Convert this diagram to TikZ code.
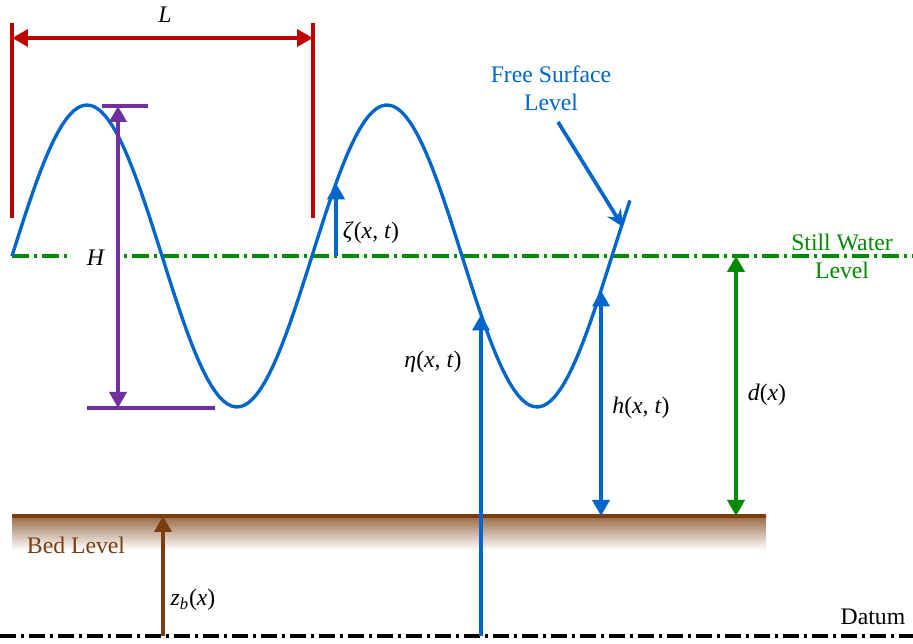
\documentclass[tikz,border=0pt]{standalone}
\usepackage{fontspec}
\setmainfont{Liberation Serif}
\usetikzlibrary{arrows.meta, positioning}
\definecolor{waveblue}{RGB}{0,102,204}
\definecolor{dimred}{RGB}{192,0,0}
\definecolor{dimpurple}{RGB}{112,48,160}
\definecolor{swlgreen}{RGB}{0,138,0}
\definecolor{bedbrown}{RGB}{122,62,16}

% surface elevation of the wave (picture units)
\newcommand{\wavey}[1]{256-151*sin(1.2*(#1-12))}

\begin{document}
\begin{tikzpicture}[
  x=0.02cm, y=-0.02cm,
  every node/.style={font=\fontsize{13.5}{16}\selectfont, inner sep=1pt},
  tri/.tip={Triangle[width=0.34cm,length=0.32cm]},
  wave/.style={waveblue, line width=1.9pt},
  arr/.style={line width=2.1pt},
  dimline/.style={dimred, line width=2pt},
  hline/.style={dimpurple, line width=2.1pt},
  swl/.style={swlgreen, line width=2.1pt, dash pattern=on 0.34cm off 0.1cm on 0.06cm off 0.1cm},
  datumline/.style={black, line width=1.8pt, dash pattern=on 0.32cm off 0.1cm on 0.06cm off 0.1cm},
  label/.style={align=center}
]
\useasboundingbox (0,0) rectangle (913,644);

% levels
\draw[swl] (12,256) -- (913,256);
\draw[datumline] (0,636) -- (913,636);
\shade[top color=bedbrown!75, bottom color=white] (12,517) rectangle (766,550);
\draw[bedbrown, line width=2.5pt] (12,516) -- (766,516);

% wave
\draw[wave] plot[domain=12:630, samples=150] (\x, {\wavey{\x}});

% end points
\coordinate (L1) at (12,38);
\coordinate (L2) at (313,38);
\coordinate (Hup) at (118,106);
\coordinate (Hlow) at (118,408);
\coordinate (zetalow) at (336,256);
\coordinate (zetaup) at (336,{\wavey{336}});
\coordinate (etalow) at (481,636);
\coordinate (etaup) at (481,{\wavey{481}});
\coordinate (hup) at (601,{\wavey{601}});
\coordinate (hlow) at (601,516);
\coordinate (dup) at (736,256);
\coordinate (dlow) at (736,516);
\coordinate (zblow) at (163,636);
\coordinate (zbup) at (163,516);
\coordinate (fslfrom) at (558,122);
\coordinate (fslto) at (623,227);

% labels
\node (L) at (165,15) {\textit{L}};
\node[fill=white, minimum width=0.96cm] (H) at (96,258) {\textit{H}};
\node (zeta) at (371,233) {\textit{ζ}(\textit{x}, \textit{t})};
\node (eta) at (433,362) {\textit{η}(\textit{x}, \textit{t})};
\node (h) at (641,408) {\textit{h}(\textit{x}, \textit{t})};
\node (d) at (767,395) {\textit{d}(\textit{x})};
\node (zb) at (193,600) {\textit{z}\textsubscript{\textit{b}}(\textit{x})};
\node[label, waveblue] (fsl) at (551,88) {Free Surface\\Level};
\node[label, swlgreen] (swlabel) at (842,256) {Still Water\\Level};
\node[bedbrown] (bed) at (76,545) {Bed Level};
\node (datum) at (873,617) {Datum};

% wavelength
\draw[dimline] (12,23) -- (12,218);
\draw[dimline] (313,23) -- (313,218);
\draw[dimline, tri-tri] (L1) -- (L2);

% wave height
\draw[hline] (102,106) -- (148,106);
\draw[hline] (87,408) -- (215,408);
\draw[hline, tri-tri] (Hlow) -- (Hup);

% elevations and depths
\draw[wave, arr, -tri] (zetalow) -- (zetaup);
\draw[wave, arr, -tri] (etalow) -- (etaup);
\draw[wave, arr, tri-tri] (hlow) -- (hup);
\draw[swlgreen, arr, tri-tri] (dlow) -- (dup);
\draw[bedbrown, arr, -tri] (zblow) -- (zbup);
\draw[wave, arr, -{Stealth[width=0.32cm,length=0.34cm]}] (fslfrom) -- (fslto);
\end{tikzpicture}
\end{document}
